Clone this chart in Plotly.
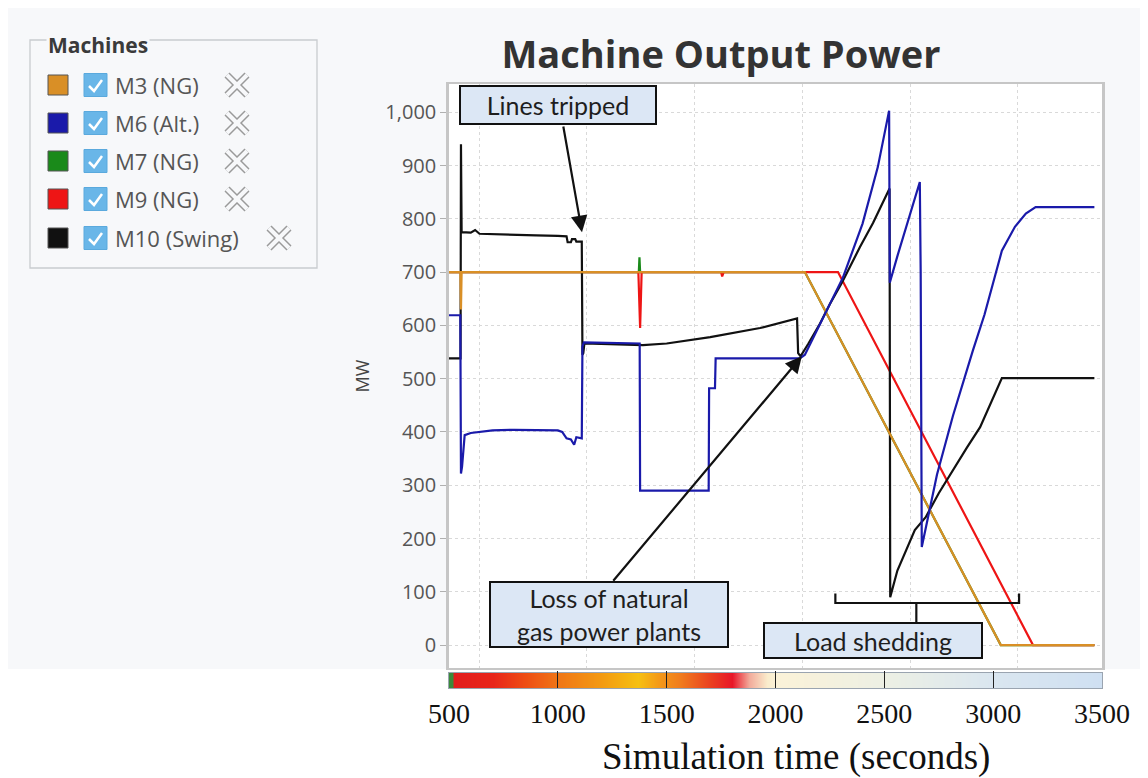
import plotly.graph_objects as go

# ---------------- data ----------------
series_names = ["M3 (NG)", "M6 (Alt.)", "M7 (NG)", "M9 (NG)", "M10 (Swing)"]
series_colors = ["#d98f26", "#1a1aaa", "#1a8a1a", "#ee1515", "#111111"]

m3_t = [500, 552, 555, 558, 2135, 3035, 3465]
m3_v = [700, 700, 630, 700, 700, 0, 0]

m6_t = [500, 552, 555, 560, 572, 600, 700, 800, 1000, 1020, 1040, 1060, 1075, 1085, 1110, 1113, 1120,
        1376, 1378, 1693, 1695, 1722, 1725, 2112, 2135, 2200, 2250, 2310, 2400, 2470, 2522,
        2525, 2560, 2600, 2663, 2667, 2672, 2742, 2815, 2907, 2960, 3000, 3040, 3100, 3150, 3195, 3465]
m6_v = [619, 619, 322, 335, 394, 398, 403, 404, 403, 400, 388, 386, 376, 390, 388, 560, 568,
        566, 290, 290, 482, 482, 538, 538, 545, 600, 640, 690, 791, 897, 1003,
        680, 730, 785, 869, 700, 184, 320, 430, 553, 620, 680, 740, 785, 810, 822, 822]

m7_t = [500, 1372, 1375, 1378, 2135, 3035, 3465]
m7_v = [700, 700, 728, 700, 700, 0, 0]

m9_t = [500, 1370, 1378, 1385, 1750, 1755, 1762, 2287, 3183, 3465]
m9_v = [700, 700, 595, 700, 700, 692, 700, 700, 0, 0]

m10_t = [500, 553, 555, 558, 600, 620, 640, 700, 800, 900, 1000, 1040, 1045, 1060, 1065, 1080,
         1085, 1110, 1113, 1117, 1122, 1250, 1391, 1500, 1700, 1929, 2099, 2104, 2115, 2150, 2200,
         2250, 2305, 2388, 2448, 2524, 2527, 2560, 2640, 2690, 2750, 2880, 2940, 3040, 3465]
m10_v = [538, 538, 940, 775, 774, 779, 772, 771, 770, 769, 768, 767, 756, 756, 762, 762,
         757, 757, 545, 548, 566, 565, 563, 566, 578, 595, 613, 548, 542, 565, 600,
         640, 680, 747, 792, 857, 90, 140, 216, 240, 285, 371, 409, 501, 501]

series_t = [m3_t, m6_t, m7_t, m9_t, m10_t]
series_v = [m3_v, m6_v, m7_v, m9_v, m10_v]
draw_order = [2, 3, 4, 0, 1]  # M7, M9, M10, M3, M6

x_ticks = [500, 1000, 1500, 2000, 2500, 3000, 3500]
bar_times = [500, 512, 524, 700, 850, 1000, 1200, 1370, 1460, 1560, 1700, 1800, 1880, 1960, 2000,
             2500, 3000, 3500]
bar_colors = ["#3b8a3b", "#3b8a3b", "#e21d1d", "#e8251a", "#ee4d14", "#f07616", "#f39a12", "#f6c012",
              "#f49a18", "#f07c1e", "#ea4020", "#e81628", "#f2aa9a", "#faeccc", "#fbf2d8",
              "#edf0e4", "#dae6f0", "#cfe0f2"]

annot_texts = ["Lines tripped", "Loss of natural<br>gas power plants", "Load shedding"]
x_title = "Simulation time (seconds)"

# ---------------- geometry helpers (page pixels -> paper) ----------------
OFF = 8                      # page body margin
W, H = 1148 - OFF, 778 - OFF
ML, MT = 449 - OFF, 84 - OFF
PW, PH = 653, 604
MR, MB = W - ML - PW, H - MT - PH


def px(x):
    return (x - 449) / PW


def py(y):
    return (688 - y) / PH


BG = "#f7f8fa"

fig = go.Figure()

for i in draw_order:
    fig.add_trace(go.Scatter(
        x=series_t[i], y=series_v[i], mode="lines", name=series_names[i],
        line=dict(color=series_colors[i], width=2.2), showlegend=False,
        xaxis="x", yaxis="y"))

# colour strip under the chart
n = len(bar_times)
cscale = [[k / (n - 1), c] for k, c in enumerate(bar_colors)]
fig.add_trace(go.Heatmap(
    x=bar_times, y=[0, 1], z=[list(range(n)), list(range(n))],
    colorscale=cscale, zmin=0, zmax=n - 1, zsmooth="best", showscale=False,
    hoverinfo="skip", xaxis="x2", yaxis="y2"))

shapes = []
annotations = []

# white lower band (outside of the screenshot region)
shapes.append(dict(type="rect", xref="paper", yref="paper", x0=px(0), x1=px(1200), y0=py(800), y1=py(669),
                   fillcolor="white", line=dict(width=0), layer="below"))

# ---- legend panel ----
shapes.append(dict(type="rect", xref="paper", yref="paper", x0=px(30), x1=px(317), y0=py(268), y1=py(40),
                   line=dict(color="#c9cbcf", width=1.3), fillcolor=BG, layer="above"))
annotations.append(dict(text="<b>Machines</b>", xref="paper", yref="paper", x=px(46), y=py(45),
                        xanchor="left", yanchor="middle", showarrow=False, bgcolor=BG,
                        font=dict(family="Open Sans", size=21, color="#3a3a3a"), borderpad=1))
row_y = [85, 123, 161, 199, 238]
icon_x = [237, 237, 237, 237, 279]
for k in range(5):
    cy = row_y[k]
    shapes.append(dict(type="rect", xref="paper", yref="paper", x0=px(48), x1=px(68), y0=py(cy + 10),
                       y1=py(cy - 10), fillcolor=series_colors[k], line=dict(color="#555", width=1)))
    shapes.append(dict(type="rect", xref="paper", yref="paper", x0=px(84), x1=px(107), y0=py(cy + 11.5),
                       y1=py(cy - 11.5), fillcolor="#69b6e8", line=dict(color="#5aa9dd", width=1)))
    path = "M {:.5f},{:.5f} L {:.5f},{:.5f} L {:.5f},{:.5f}".format(
        px(89), py(cy + 1), px(94), py(cy + 6), px(102), py(cy - 5))
    shapes.append(dict(type="path", xref="paper", yref="paper", path=path,
                       line=dict(color="white", width=2.5)))
    annotations.append(dict(text=series_names[k], xref="paper", yref="paper", x=px(113), y=py(cy),
                            xanchor="left", yanchor="middle", showarrow=False,
                            font=dict(family="Open Sans", size=22, color="#555")))
    cx = icon_x[k]
    for lw, col in ((7, "#9a9a9a"), (4, BG)):
        for (dx0, dy0, dx1, dy1) in ((-10, -10, 10, 10), (-10, 10, 10, -10)):
            shapes.append(dict(type="line", xref="paper", yref="paper", x0=px(cx + dx0), y0=py(cy + dy0),
                               x1=px(cx + dx1), y1=py(cy + dy1), line=dict(color=col, width=lw)))

# ---- callout boxes ----
box_specs = [(558, 105, 198, 40), (609, 614, 240, 67), (873, 640, 220, 37)]
for txt, (cx, cy, w, h) in zip(annot_texts, box_specs):
    annotations.append(dict(text=txt, xref="paper", yref="paper", x=px(cx), y=py(cy),
                            xanchor="center", yanchor="middle", showarrow=False,
                            width=w - 4, height=h - 4, bgcolor="#dce7f5", bordercolor="#111",
                            borderwidth=2, borderpad=0, align="center",
                            font=dict(family="Lato", size=25, color="#1e1e1e")))

# arrows (head on the data, tail at the box edge)
arrows = [((1111, 775), (1024, 976)), ((2121, 542), (1249, 118))]
for (hx, hy), (tx, ty) in arrows:
    annotations.append(dict(x=hx, y=hy, ax=tx, ay=ty, xref="x", yref="y", axref="x", ayref="y",
                            text="", showarrow=True, arrowhead=2, arrowsize=1.5, arrowwidth=2.2,
                            arrowcolor="#111"))

# load shedding bracket
shapes.append(dict(type="path", xref="x", yref="y",
                   path="M 2275,97 L 2275,79 L 3119,79 L 3119,97", line=dict(color="#111", width=2.2)))
shapes.append(dict(type="line", xref="x", yref="y", x0=2647, x1=2647, y0=79, y1=43,
                   line=dict(color="#111", width=2.2)))

# x-axis title (placed as in the original figure, slightly right of the axis centre)
annotations.append(dict(text=x_title, xref="paper", yref="paper", x=px(796), y=py(757),
                        xanchor="center", yanchor="middle", showarrow=False,
                        font=dict(family="Liberation Serif", size=37, color="#111")))

fig.update_layout(
    width=W, height=H,
    margin=dict(l=ML, r=MR, t=MT, b=MB),
    paper_bgcolor=BG, plot_bgcolor="white",
    title=dict(text="Machine Output Power", xref="paper", x=px(721), xanchor="center",
               yref="container", y=1 - (55 - OFF) / H, yanchor="middle",
               font=dict(family="Open Sans", size=38, color="#333", weight=700)),
    showlegend=False,
    xaxis=dict(domain=[0, 1], anchor="y", range=[500, 3500], tick0=638, dtick=495,
               showticklabels=False, ticks="", showgrid=True, gridcolor="#d9d9d9", griddash="dot",
               gridwidth=1, zeroline=False, showline=True, mirror=True, linecolor="#c6c6c6",
               linewidth=2),
    yaxis=dict(domain=[(688 - 668) / PH, 1], anchor="x", range=[-43, 1053], tick0=0, dtick=100,
               tickformat=",d", ticks="outside", ticklen=6, tickcolor="#b0b0b0",
               tickfont=dict(family="Open Sans", size=20, color="#555"),
               showgrid=True, gridcolor="#d9d9d9", griddash="dot", zeroline=False,
               showline=True, mirror=True, linecolor="#c6c6c6", linewidth=2.5,
               title=dict(text="MW", font=dict(family="Open Sans", size=18, color="#444"), standoff=12),
               automargin=False),
    xaxis2=dict(domain=[0, 1], anchor="y2", range=[500, 3500], tickvals=x_ticks,
                ticktext=[str(v) for v in x_ticks], ticks="inside", ticklen=17, tickwidth=1.3,
                tickcolor="#222", showgrid=False, zeroline=False, showline=True, mirror=True,
                linecolor="#9aa4b0", linewidth=1.2,
                tickfont=dict(family="Liberation Serif", size=28, color="#111"),
                automargin=False),
    yaxis2=dict(domain=[0, 15 / PH], anchor="x2", range=[0, 1], showticklabels=False, ticks="",
                showgrid=False, zeroline=False, showline=True, mirror=True, linecolor="#9aa4b0",
                linewidth=1.2),
    shapes=shapes,
    annotations=annotations,
)

fig.write_html("out.html")
